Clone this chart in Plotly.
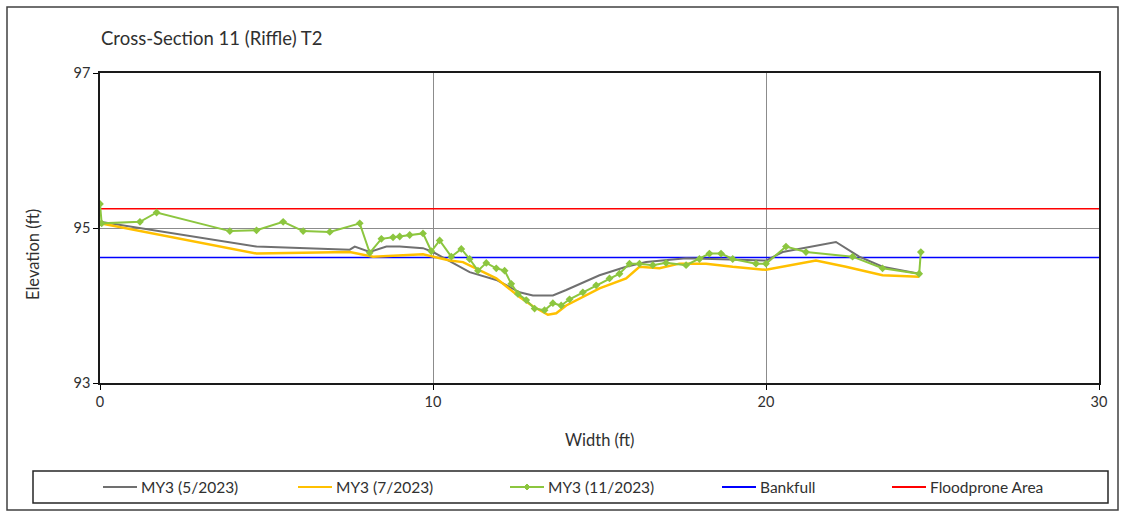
import plotly.graph_objects as go

# Survey stations (ft) and elevations (ft)
my3_may_x = [0.0, 4.7, 7.5, 7.65, 8.1, 8.6, 9.0, 9.7, 10.0, 11.1, 11.9, 12.6, 13.0,
             13.6, 14.0, 15.0, 15.8, 16.4, 17.6, 20.0, 20.5, 22.1, 22.8, 23.5, 24.6]
my3_may_y = [95.08, 94.76, 94.72, 94.76, 94.69, 94.76, 94.76, 94.74, 94.69, 94.43,
             94.33, 94.17, 94.13, 94.13, 94.20, 94.39, 94.50, 94.56, 94.61, 94.58,
             94.69, 94.82, 94.63, 94.50, 94.41]

my3_jul_x = [0.0, 4.7, 7.5, 8.2, 9.7, 10.5, 10.9, 11.9, 12.6, 13.0, 13.45, 13.7, 14.0,
             15.0, 15.8, 16.2, 16.8, 17.4, 18.2, 19.0, 20.0, 21.5, 22.4, 23.5, 24.6]
my3_jul_y = [95.06, 94.67, 94.69, 94.63, 94.66, 94.58, 94.56, 94.35, 94.11, 93.99,
             93.88, 93.90, 94.00, 94.22, 94.35, 94.50, 94.48, 94.54, 94.54, 94.50,
             94.46, 94.58, 94.50, 94.39, 94.37]

my3_nov_x = [0.0, 0.05, 1.2, 1.7, 3.9, 4.7, 5.5, 6.1, 6.9, 7.8, 8.1, 8.45, 8.8, 9.0,
             9.3, 9.7, 9.95, 10.2, 10.55, 10.85, 11.1, 11.35, 11.6, 11.9, 12.15, 12.35,
             12.55, 12.8, 13.05, 13.35, 13.6, 13.85, 14.1, 14.5, 14.9, 15.3, 15.6,
             15.9, 16.2, 16.6, 17.0, 17.6, 18.0, 18.3, 18.65, 19.0, 19.7, 20.0, 20.6,
             21.2, 22.6, 23.5, 24.6, 24.65]
my3_nov_y = [95.31, 95.06, 95.08, 95.20, 94.96, 94.97, 95.08, 94.96, 94.95, 95.06,
             94.68, 94.86, 94.88, 94.89, 94.91, 94.93, 94.70, 94.84, 94.63, 94.73,
             94.60, 94.45, 94.55, 94.48, 94.45, 94.28, 94.15, 94.07, 93.96, 93.94,
             94.03, 94.00, 94.08, 94.17, 94.26, 94.35, 94.41, 94.54, 94.54, 94.52,
             94.55, 94.52, 94.60, 94.67, 94.67, 94.60, 94.54, 94.54, 94.76, 94.69,
             94.63, 94.48, 94.41, 94.69]

bankfull_elev = 94.62
floodprone_elev = 95.25
width_range = [0, 30]

FONT = "Lato"
TEXT = "#303030"

# Plot area in pixels (figure is 1125 x 515)
L, R, T, B = 100, 1099, 73, 383
W, H = 1125, 515


def px_x(p):
    return (p - L) / (R - L)


def px_y(p):
    return (B - p) / (B - T)


fig = go.Figure()

fig.add_trace(go.Scatter(x=width_range, y=[floodprone_elev] * 2, mode="lines",
                         line=dict(color="#FF0000", width=1.5), name="Floodprone Area"))
fig.add_trace(go.Scatter(x=width_range, y=[bankfull_elev] * 2, mode="lines",
                         line=dict(color="#0000FF", width=1.5), name="Bankfull"))
fig.add_trace(go.Scatter(x=my3_may_x, y=my3_may_y, mode="lines",
                         line=dict(color="#707070", width=2), name="MY3 (5/2023)"))
fig.add_trace(go.Scatter(x=my3_jul_x, y=my3_jul_y, mode="lines",
                         line=dict(color="#FFC000", width=2.5), name="MY3 (7/2023)"))
fig.add_trace(go.Scatter(x=my3_nov_x, y=my3_nov_y, mode="lines+markers",
                         line=dict(color="#8CC63F", width=2),
                         marker=dict(symbol="diamond", size=6, color="#8CC63F"),
                         name="MY3 (11/2023)"))

shapes = []
annotations = []

# Outer chart frame
shapes.append(dict(type="rect", xref="paper", yref="paper",
                   x0=px_x(7), x1=px_x(1118), y0=px_y(510), y1=px_y(7),
                   line=dict(color="#404040", width=1.5), fillcolor="rgba(0,0,0,0)",
                   layer="below"))

# Legend box and entries
shapes.append(dict(type="rect", xref="paper", yref="paper",
                   x0=px_x(33), x1=px_x(1108), y0=px_y(503), y1=px_y(471),
                   line=dict(color="#262626", width=1.5), fillcolor="rgba(0,0,0,0)"))

legend_items = [
    ("MY3 (5/2023)", "#707070", 103, False),
    ("MY3 (7/2023)", "#FFC000", 298, False),
    ("MY3 (11/2023)", "#8CC63F", 510, True),
    ("Bankfull", "#0000FF", 722, False),
    ("Floodprone Area", "#FF0000", 892, False),
]
ly = 487
for label, color, x0, marker in legend_items:
    shapes.append(dict(type="line", xref="paper", yref="paper",
                       x0=px_x(x0), x1=px_x(x0 + 34), y0=px_y(ly), y1=px_y(ly),
                       line=dict(color=color, width=2)))
    if marker:
        shapes.append(dict(type="path", xref="paper", yref="paper",
                           path=(f"M {px_x(x0 + 17)} {px_y(ly - 3)} L {px_x(x0 + 20)} {px_y(ly)} "
                                 f"L {px_x(x0 + 17)} {px_y(ly + 3)} L {px_x(x0 + 14)} {px_y(ly)} Z"),
                           fillcolor=color, line=dict(color=color, width=1)))
    annotations.append(dict(text=label, xref="paper", yref="paper",
                            x=px_x(x0 + 36), y=px_y(ly), xanchor="left", yanchor="middle",
                            showarrow=False, font=dict(family=FONT, size=15.5, color=TEXT)))

# Chart title
annotations.append(dict(text="Cross-Section 11 (Riffle) T2", xref="paper", yref="paper",
                        x=px_x(99), y=px_y(38), xanchor="left", yanchor="middle",
                        showarrow=False, font=dict(family=FONT, size=18.5, color=TEXT)))

# Axis titles
annotations.append(dict(text="Elevation (ft)", xref="paper", yref="paper",
                        x=px_x(33), y=px_y(255), xanchor="center", yanchor="middle",
                        textangle=-90, showarrow=False,
                        font=dict(family=FONT, size=16.5, color=TEXT)))
annotations.append(dict(text="Width (ft)", xref="paper", yref="paper",
                        x=px_x(599), y=px_y(440), xanchor="center", yanchor="middle",
                        showarrow=False, font=dict(family=FONT, size=16.5, color=TEXT)))

fig.update_layout(
    width=W, height=H,
    margin=dict(l=L, r=W - R, t=T, b=H - B),
    paper_bgcolor="white", plot_bgcolor="white",
    showlegend=False,
    font=dict(family=FONT, size=14.5, color=TEXT),
    shapes=shapes, annotations=annotations,
)

fig.update_xaxes(range=width_range, dtick=10, tick0=0, showgrid=True,
                 gridcolor="#8C8C8C", gridwidth=1, zeroline=False,
                 showline=True, linecolor="#1A1A1A", linewidth=1.5, mirror=True,
                 ticks="outside", ticklen=5, tickcolor="#000000",
                 tickfont=dict(family=FONT, size=14.5, color=TEXT))
fig.update_yaxes(range=[93, 97], dtick=2, tick0=93, showgrid=True,
                 gridcolor="#8C8C8C", gridwidth=1, zeroline=False,
                 showline=True, linecolor="#1A1A1A", linewidth=1.5, mirror=True,
                 ticks="outside", ticklen=5, tickcolor="#000000",
                 tickfont=dict(family=FONT, size=14.5, color=TEXT))

fig.write_html("out.html")
